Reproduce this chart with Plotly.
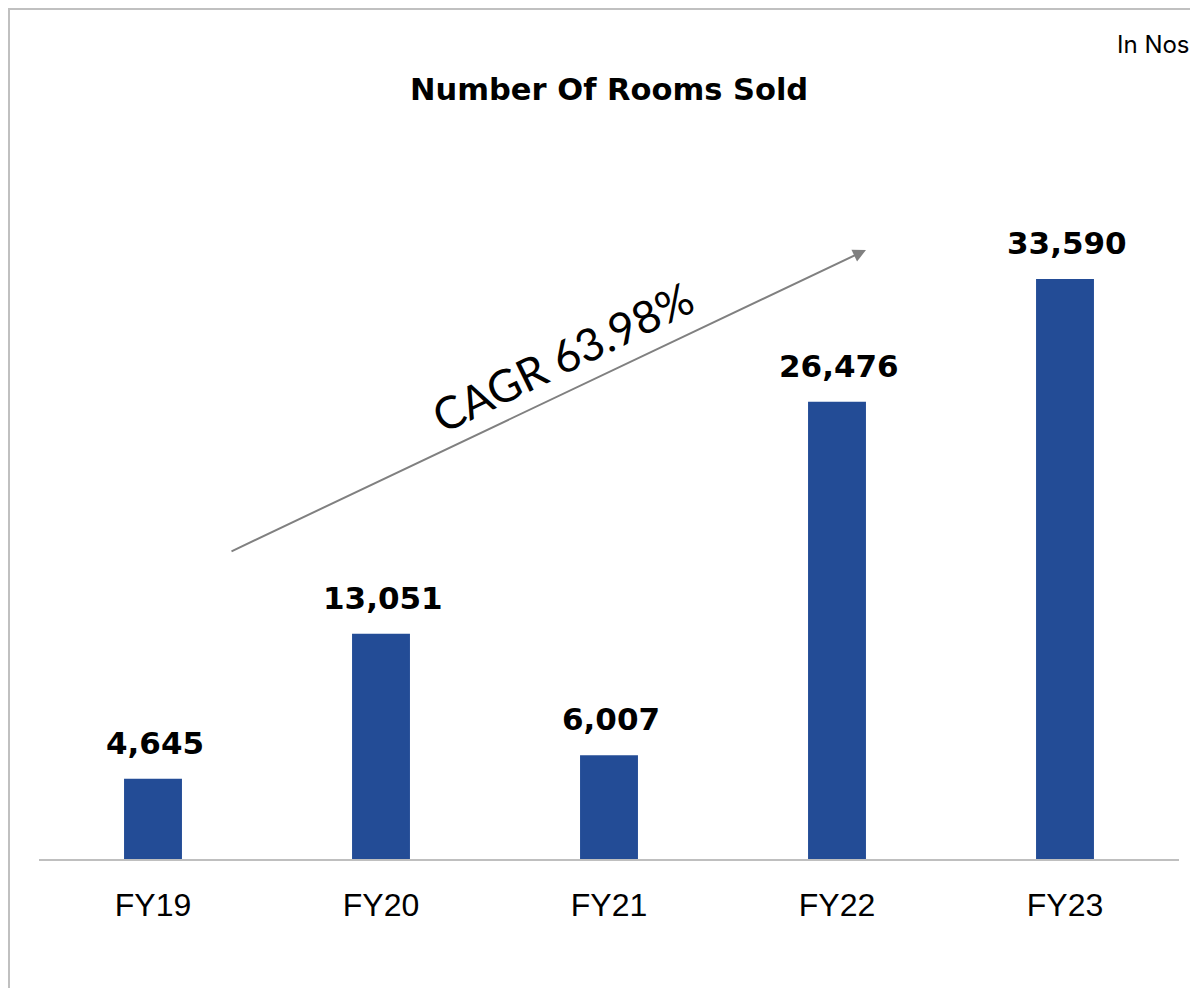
import plotly.graph_objects as go

categories = ["FY19", "FY20", "FY21", "FY22", "FY23"]
rooms_sold = [4645, 13051, 6007, 26476, 33590]
title_text = "Number Of Rooms Sold"
unit_text = "In Nos"
cagr_text = "CAGR 63.98%"

OFF = 8  # page offset of the figure in the browser
W, H = 1190, 980
L = 39 - OFF
R = W - (1179 - OFF)
T = 150 - OFF
B = H - (859 - OFF)
plot_w = W - L - R
plot_h = H - T - B

def px(xs):
    return (xs - OFF - L) / plot_w

def py(ys):
    return (H - B - (ys - OFF)) / plot_h

y_max = plot_h / (580 / 33590)

fig = go.Figure()
fig.add_trace(go.Bar(
    x=categories,
    y=rooms_sold,
    marker=dict(color="#234C96", line=dict(width=0)),
    width=0.254,
    hoverinfo="skip",
))

annotations = [
    dict(text=f"<b>{v:,}</b>", x=c, y=v, xref="x", yref="y", showarrow=False,
         xanchor="center", yanchor="middle", yshift=36, xshift=2,
         font=dict(family="DejaVu Sans", size=31, color="#000000"))
    for c, v in zip(categories, rooms_sold)
]
annotations += [
    dict(text=f"<b>{title_text}</b>", xref="paper", yref="paper",
         x=px(609), y=py(90), xanchor="center", yanchor="middle", showarrow=False,
         font=dict(family="DejaVu Sans", size=30.5, color="#000000")),
    dict(text=unit_text, xref="paper", yref="paper",
         x=px(1192), y=py(44), xanchor="right", yanchor="middle", showarrow=False,
         font=dict(family="Inter", size=24, color="#000000")),
    dict(text="", xref="paper", yref="paper", axref="pixel", ayref="pixel",
         x=px(866), y=py(250), ax=230 - 866, ay=552 - 250,
         showarrow=True, arrowhead=2, arrowsize=1.3, arrowwidth=2,
         arrowcolor="#808080"),
    dict(text=cagr_text, xref="paper", yref="paper",
         x=px(562), y=py(357), xanchor="center", yanchor="middle",
         showarrow=False, textangle=-26,
         font=dict(family="Lato", size=45, color="#000000")),
]

fig.update_layout(
    width=W, height=H,
    margin=dict(l=L, r=R, t=T, b=B),
    paper_bgcolor="white",
    plot_bgcolor="white",
    showlegend=False,
    xaxis=dict(
        showgrid=False, showline=True, linecolor="#BFBFBF", linewidth=1.5,
        ticks="", ticklabelstandoff=17,
        tickfont=dict(family="Liberation Sans", size=32, color="#000000"),
        range=[-0.5, 4.5],
    ),
    yaxis=dict(visible=False, range=[0, y_max]),
    annotations=annotations,
    shapes=[
        dict(type="rect", xref="paper", yref="paper",
             x0=px(8.5), x1=px(1300), y0=py(1100), y1=py(8.5),
             line=dict(color="#C0C0C0", width=3), layer="below"),
    ],
)

fig.write_html("out.html")
